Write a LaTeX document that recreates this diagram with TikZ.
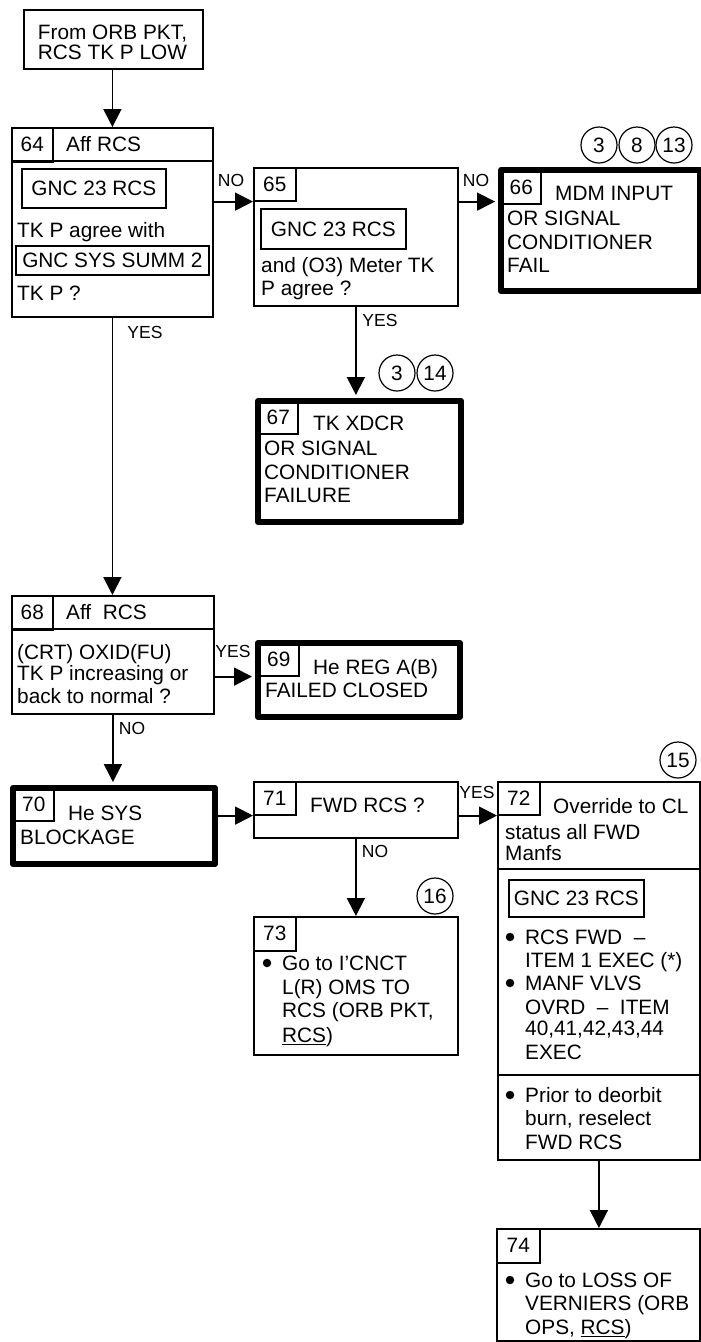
\documentclass[tikz,border=0pt]{standalone}
\usepackage{fontspec}
\setmainfont{Liberation Sans}
\usetikzlibrary{arrows.meta}
\begin{document}
\begin{tikzpicture}[x=1pt,y=-1pt,
  every node/.style={inner sep=0pt, font=\fontsize{20.8}{24}\selectfont},
  box/.style={draw, line width=1.8pt, anchor=north west},
  heavy/.style={draw, line width=6pt, line join=round, anchor=north west},
  cell/.style={draw, line width=1.6pt, anchor=north west},
  tx/.style={anchor=base west},
  lbl/.style={font=\fontsize{17.5}{20}\selectfont},
  circ/.style={draw, circle, minimum size=36pt, line width=1.2pt},
  arr/.style={draw, line width=1.8pt, -{Triangle[length=18pt,width=18pt]}},
  dot/.style={fill, circle, minimum size=8.5pt},
  sep/.style={draw, line width=1.8pt}
]
\useasboundingbox (0,0) rectangle (701,1342);
\fill[white] (0,0) rectangle (701,1342);

% start
\node[box, minimum width=179pt, minimum height=59pt] (start) at (23,9) {};
\node[anchor=base] (s1) at (112.5,39.5) {From ORB PKT,};
\node[anchor=base] (s2) at (112.5,59.5) {RCS TK P LOW};

% 64
\node[box, minimum width=201pt, minimum height=189pt] (b64) at (11,127) {};
\draw[sep] (11,161) coordinate (h64a) -- (212,161) coordinate (h64b);
\node[cell, minimum width=41pt, minimum height=34pt] (c64) at (11,127) {};
\node (n64) at (c64.center) {64};
\node[tx] (t64a) at (66,151.5) {Aff RCS};
\node[box, minimum width=144pt, minimum height=39pt] (i64a) at (21,168) {};
\node (t64b) at (i64a.center) {GNC 23 RCS};
\node[tx] (t64c) at (17,237.5) {TK P agree with};
\node[box, minimum width=193pt, minimum height=29pt] (i64b) at (15,245) {};
\node (t64d) at (i64b.center) {GNC SYS SUMM 2};
\node[tx] (t64e) at (17,300.5) {TK P ?};

% 65
\node[box, minimum width=204pt, minimum height=138pt] (b65) at (253,167) {};
\node[cell, minimum width=42pt, minimum height=33pt] (c65) at (253,167) {};
\node (n65) at (c65.center) {65};
\node[box, minimum width=145pt, minimum height=40pt] (i65) at (260,208) {};
\node (t65a) at (i65.center) {GNC 23 RCS};
\node[tx] (t65b) at (261,272.5) {and (O3) Meter TK};
\node[tx] (t65c) at (261,295.5) {P agree ?};

% 66
\node[heavy, minimum width=199pt, minimum height=121pt] (b66) at (498,167) {};
\node[cell, minimum width=39pt, minimum height=33pt] (c66) at (501,170) {};
\node (n66) at (c66.center) {66};
\node[tx] (t66a) at (555,200) {MDM INPUT};
\node[tx] (t66b) at (507,225.5) {OR SIGNAL};
\node[tx] (t66c) at (507,249.5) {CONDITIONER};
\node[tx] (t66d) at (507,272.5) {FAIL};
\node[circ] (k66a) at (599,145) {3};
\node[circ] (k66b) at (637,145) {8};
\node[circ] (k66c) at (674,145) {13};

% 67
\node[heavy, minimum width=203pt, minimum height=121pt] (b67) at (255,398) {};
\node[cell, minimum width=39pt, minimum height=32pt] (c67) at (258,401) {};
\node (n67) at (c67.center) {67};
\node[tx] (t67a) at (313,430.5) {TK XDCR};
\node[tx] (t67b) at (264,455.5) {OR SIGNAL};
\node[tx] (t67c) at (264,479.5) {CONDITIONER};
\node[tx] (t67d) at (264,502.5) {FAILURE};
\node[circ] (k67a) at (397,373) {3};
\node[circ] (k67b) at (435,373) {14};

% 68
\node[box, minimum width=202pt, minimum height=118pt] (b68) at (11,595) {};
\draw[sep] (11,629) coordinate (h68a) -- (213,629) coordinate (h68b);
\node[cell, minimum width=41pt, minimum height=34pt] (c68) at (11,595) {};
\node (n68) at (c68.center) {68};
\node[tx] (t68a) at (66,619.5) {Aff\ \ RCS};
\node[tx] (t68b) at (17,659.5) {(CRT) OXID(FU)};
\node[tx] (t68c) at (17,680.5) {TK P increasing or};
\node[tx] (t68d) at (17,703.5) {back to normal ?};

% 69
\node[heavy, minimum width=202pt, minimum height=74pt] (b69) at (255,640) {};
\node[cell, minimum width=40pt, minimum height=32pt] (c69) at (258,643) {};
\node (n69) at (c69.center) {69};
\node[tx] (t69a) at (313,674.5) {He REG A(B)};
\node[tx] (t69b) at (265,697.5) {FAILED CLOSED};

% 70
\node[heavy, minimum width=202pt, minimum height=76pt] (b70) at (10,785) {};
\node[cell, minimum width=40pt, minimum height=32pt] (c70) at (13,788) {};
\node (n70) at (c70.center) {70};
\node[tx] (t70a) at (68,820.5) {He SYS};
\node[tx] (t70b) at (20,844.5) {BLOCKAGE};

% 71
\node[box, minimum width=204pt, minimum height=56pt] (b71) at (253,781) {};
\node[cell, minimum width=42pt, minimum height=33pt] (c71) at (253,781) {};
\node (n71) at (c71.center) {71};
\node[tx] (t71a) at (310,812.5) {FWD RCS ?};

% 73
\node[box, minimum width=204pt, minimum height=138pt] (b73) at (253,916) {};
\node[cell, minimum width=42pt, minimum height=34pt] (c73) at (253,916) {};
\node (n73) at (c73.center) {73};
\node[dot] (d73) at (267,963) {};
\node[tx] (t73a) at (282,970.5) {Go to I’CNCT};
\node[tx] (t73b) at (282,994.5) {L(R) OMS TO};
\node[tx] (t73c) at (282,1017.5) {RCS (ORB PKT,};
\node[tx] (t73d) at (282,1042.5) {\underline{RCS})};
\node[circ] (k73) at (435,896) {16};

% 72
\node[box, minimum width=202pt, minimum height=378pt] (b72) at (497,781) {};
\draw[sep] (497,869) coordinate (h72a) -- (699,869) coordinate (h72b);
\draw[sep] (497,1075) coordinate (h72c) -- (699,1075) coordinate (h72d);
\node[cell, minimum width=42pt, minimum height=33pt] (c72) at (497,781) {};
\node (n72) at (c72.center) {72};
\node[tx] (t72a) at (553,813.5) {Override to CL};
\node[tx] (t72b) at (505,839.5) {status all FWD};
\node[tx] (t72c) at (505,860.5) {Manfs};
\node[box, minimum width=135pt, minimum height=37pt] (i72) at (508,879) {};
\node (t72d) at (i72.center) {GNC 23 RCS};
\node[dot] (d72a) at (510,937) {};
\node[tx] (t72e) at (525,944.5) {RCS FWD\ \ –};
\node[tx] (t72f) at (525,967.5) {ITEM 1 EXEC (*)};
\node[dot] (d72b) at (510,983) {};
\node[tx] (t72g) at (525,990.5) {MANF VLVS};
\node[tx] (t72h) at (525,1014.5) {OVRD\ \ –\ \ ITEM};
\node[tx] (t72i) at (525,1035.5) {40,41,42,43,44};
\node[tx] (t72j) at (525,1059.5) {EXEC};
\node[dot] (d72c) at (510,1095) {};
\node[tx] (t72k) at (525,1102.5) {Prior to deorbit};
\node[tx] (t72l) at (525,1125.5) {burn, reselect};
\node[tx] (t72m) at (525,1149.5) {FWD RCS};
\node[circ] (k72) at (678,760) {15};

% 74
\node[box, minimum width=203pt, minimum height=112pt] (b74) at (496,1228) {};
\node[cell, minimum width=43pt, minimum height=34pt] (c74) at (496,1228) {};
\node (n74) at (c74.center) {74};
\node[dot] (d74) at (510,1280) {};
\node[tx] (t74a) at (525,1287.5) {Go to LOSS OF};
\node[tx] (t74b) at (525,1310.5) {VERNIERS (ORB};
\node[tx] (t74c) at (525,1334.5) {OPS, \underline{RCS})};

% connectors
\draw[arr] (start.south -| b64.north) -- (b64.north);
\draw[arr] (b64.east |- c65.south west) -- (c65.south west);
\node[lbl] (l1) at (231,180) {NO};
\draw[arr, shorten >=3pt] (b65.east |- c65.south west) -- (b66.west |- c65.south west);
\node[lbl] (l2) at (476,180) {NO};
\draw[arr, shorten >=3pt] (b65.south) -- (b65.south |- b67.north);
\node[lbl] (l3) at (380,320) {YES};
\draw[arr] (b64.south) -- (b64.south |- b68.north);
\node[lbl] (l4) at (145,332) {YES};
\draw[arr, shorten >=3pt] (b68.east |- c69.south) -- (b69.west |- c69.south);
\node[lbl] (l5) at (233,651) {YES};
\draw[arr, shorten >=3pt] (b68.south) -- (b68.south |- b70.north);
\node[lbl] (l6) at (132,728) {NO};
\draw[arr, shorten <=-3pt] (b70.east |- c71.south) -- (b71.west |- c71.south);
\draw[arr] (b71.east |- c71.south) -- (b72.west |- c71.south);
\node[lbl] (l7) at (477,792) {YES};
\draw[arr] (b71.south) -- (b71.south |- b73.north);
\node[lbl] (l8) at (375,851) {NO};
\draw[arr] (b72.south) -- (b72.south |- b74.north);
\end{tikzpicture}
\end{document}
